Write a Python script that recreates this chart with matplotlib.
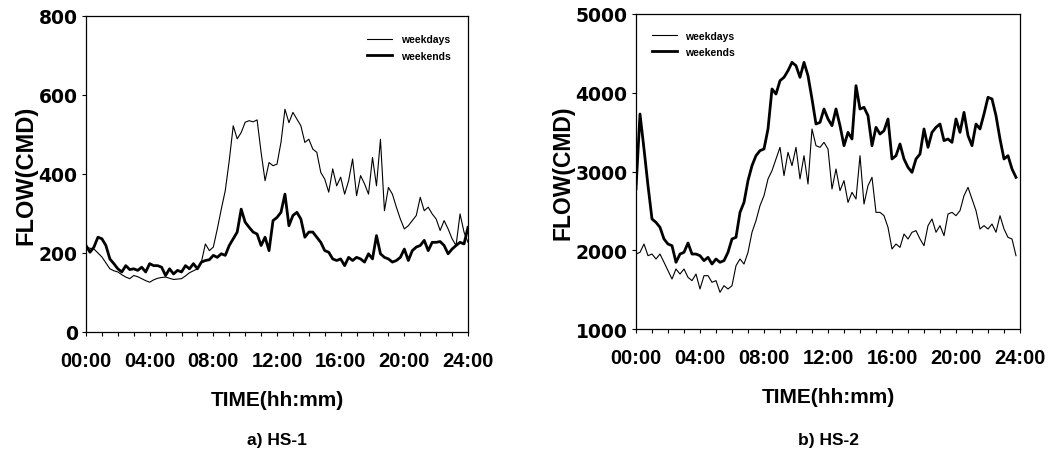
import numpy as np
import matplotlib
matplotlib.use("Agg")
import matplotlib.pyplot as plt
from matplotlib.ticker import MultipleLocator, FixedLocator

plt.rcParams['font.family'] = ['Liberation Sans', 'DejaVu Sans']
plt.rcParams['font.weight'] = 'bold'

# ---------------- data (hours, flow in CMD) ----------------
t = np.arange(0, 24.01, 0.25)

hs1_weekdays = [215, 212, 210, 200, 190, 175, 160, 155, 152, 145, 139, 135,
                143, 140, 135, 130, 126, 132, 136, 138, 139, 136, 133, 134,
                135, 142, 150, 155, 160, 177, 223, 206, 215, 261, 311, 358,
                434, 522, 489, 505, 531, 535, 532, 537, 455, 383, 429, 421,
                425, 480, 564, 530, 556, 539, 522, 480, 488, 463, 455, 404,
                387, 354, 413, 370, 392, 349, 383, 438, 345, 396, 375, 349,
                442, 370, 488, 307, 366, 349, 316, 286, 261, 269, 282, 295,
                341, 307, 316, 299, 286, 257, 282, 261, 236, 219, 299, 253,
                227]

hs1_weekends = [219, 202, 215, 240, 236, 219, 185, 173, 160, 152, 168, 158,
                160, 156, 164, 152, 173, 168, 168, 164, 143, 160, 147, 156,
                152, 168, 160, 173, 160, 177, 181, 183, 194, 189, 198, 194,
                219, 236, 253, 311, 278, 265, 253, 248, 219, 240, 206, 282,
                290, 303, 349, 269, 295, 303, 286, 240, 253, 253, 240, 227,
                206, 202, 185, 181, 185, 168, 189, 181, 189, 185, 177, 198,
                185, 244, 198, 189, 185, 177, 181, 189, 210, 181, 206, 215,
                219, 232, 206, 227, 227, 229, 219, 198, 210, 219, 227, 223,
                265]

t2 = np.arange(0, 23.76, 0.25)

hs2_weekdays = [1952, 1974, 2079, 1931, 1952, 1889, 1952, 1847, 1741, 1635,
                1762, 1698, 1762, 1656, 1614, 1698, 1508, 1677, 1677, 1593,
                1614, 1466, 1550, 1508, 1550, 1804, 1889, 1825, 1974, 2228,
                2376, 2566, 2693, 2905, 3011, 3159, 3307, 2947, 3243, 3074,
                3307, 2905, 3201, 2841, 3540, 3328, 3307, 3370, 3286, 2778,
                3032, 2757, 2884, 2608, 2735, 2651, 3201, 2587, 2820, 2926,
                2481, 2481, 2439, 2291, 2016, 2079, 2037, 2206, 2143, 2228,
                2249, 2143, 2058, 2312, 2397, 2228, 2312, 2185, 2460, 2481,
                2439, 2503, 2693, 2799, 2651, 2503, 2270, 2312, 2270, 2333,
                2228, 2439, 2270, 2164, 2143, 1931]

hs2_weekends = [2778, 3730, 3286, 2820, 2397, 2354, 2291, 2143, 2079, 2058,
                1847, 1952, 1974, 2092, 1952, 1952, 1931, 1868, 1910, 1825,
                1889, 1847, 1868, 1974, 2143, 2164, 2481, 2608, 2884, 3074,
                3201, 3265, 3286, 3540, 4048, 3984, 4153, 4196, 4280, 4386,
                4344, 4196, 4386, 4217, 3921, 3603, 3624, 3794, 3667, 3582,
                3794, 3582, 3328, 3497, 3413, 4090, 3794, 3815, 3709, 3328,
                3561, 3476, 3518, 3667, 3159, 3201, 3349, 3159, 3053, 2989,
                3159, 3222, 3540, 3307, 3497, 3561, 3603, 3392, 3413, 3370,
                3667, 3497, 3751, 3455, 3328, 3603, 3540, 3730, 3942, 3921,
                3709, 3413, 3159, 3201, 3032, 2926]

xtick_pos = [0, 4, 8, 12, 16, 20, 24]
xtick_labels = ['00:00', '04:00', '08:00', '12:00', '16:00', '20:00', '24:00']

fig = plt.figure(figsize=(10.64, 4.52), dpi=100)
ax1 = fig.add_axes([86/1064, 1-333/452, 382/1064, 316/452])
ax2 = fig.add_axes([636/1064, 1-330/452, 384/1064, 315/452])

def style(ax, ylim, ystep, ylab_size):
    ax.set_xlim(0, 24)
    ax.set_ylim(*ylim)
    ax.xaxis.set_major_locator(FixedLocator(xtick_pos))
    ax.set_xticklabels(xtick_labels)
    ax.xaxis.set_minor_locator(MultipleLocator(1))
    ax.yaxis.set_major_locator(MultipleLocator(ystep))
    ax.tick_params(axis='x', which='major', labelsize=14.5, length=3, width=0.8, pad=11)
    ax.tick_params(axis='x', which='minor', length=3, width=0.8)
    ax.tick_params(axis='y', length=3, width=0.8, pad=3)
    for lab in ax.get_xticklabels():
        lab.set_fontweight('bold')
    for lab in ax.get_yticklabels():
        lab.set_fontweight('bold')
        lab.set_fontfamily('DejaVu Sans')
        lab.set_fontsize(13.5)
    for sp in ax.spines.values():
        sp.set_linewidth(0.9)
    ax.set_xlabel('TIME(hh:mm)', fontsize=15, fontweight='bold', labelpad=14)
    ax.set_ylabel('FLOW(CMD)', fontsize=ylab_size, fontweight='bold', labelpad=1)

ax1.plot(t, hs1_weekdays, color='black', lw=0.8, label='weekdays')
ax1.plot(t, hs1_weekends, color='black', lw=2.0, label='weekends')
style(ax1, (0, 800), 200, 17)
leg1 = ax1.legend(loc='upper right', bbox_to_anchor=(0.965, 0.955), frameon=False,
                  prop={'size': 7.5, 'weight': 'bold'}, handlelength=2.4,
                  handletextpad=0.8, labelspacing=0.6, borderaxespad=0)

ax2.plot(t2, hs2_weekdays, color='black', lw=0.8, label='weekdays')
ax2.plot(t2, hs2_weekends, color='black', lw=2.0, label='weekends')
style(ax2, (1000, 5000), 1000, 16.5)
leg2 = ax2.legend(loc='upper left', bbox_to_anchor=(0.03, 0.96), frameon=False,
                  prop={'size': 7.5, 'weight': 'bold'}, handlelength=2.4,
                  handletextpad=0.8, labelspacing=0.6, borderaxespad=0)

fig.text(277/1064, 1-441/452, 'a) HS-1', ha='center', va='center', fontsize=12.5, fontweight='bold')
fig.text(828/1064, 1-441/452, 'b) HS-2', ha='center', va='center', fontsize=12.5, fontweight='bold')

fig.savefig('out.png', dpi=100)
